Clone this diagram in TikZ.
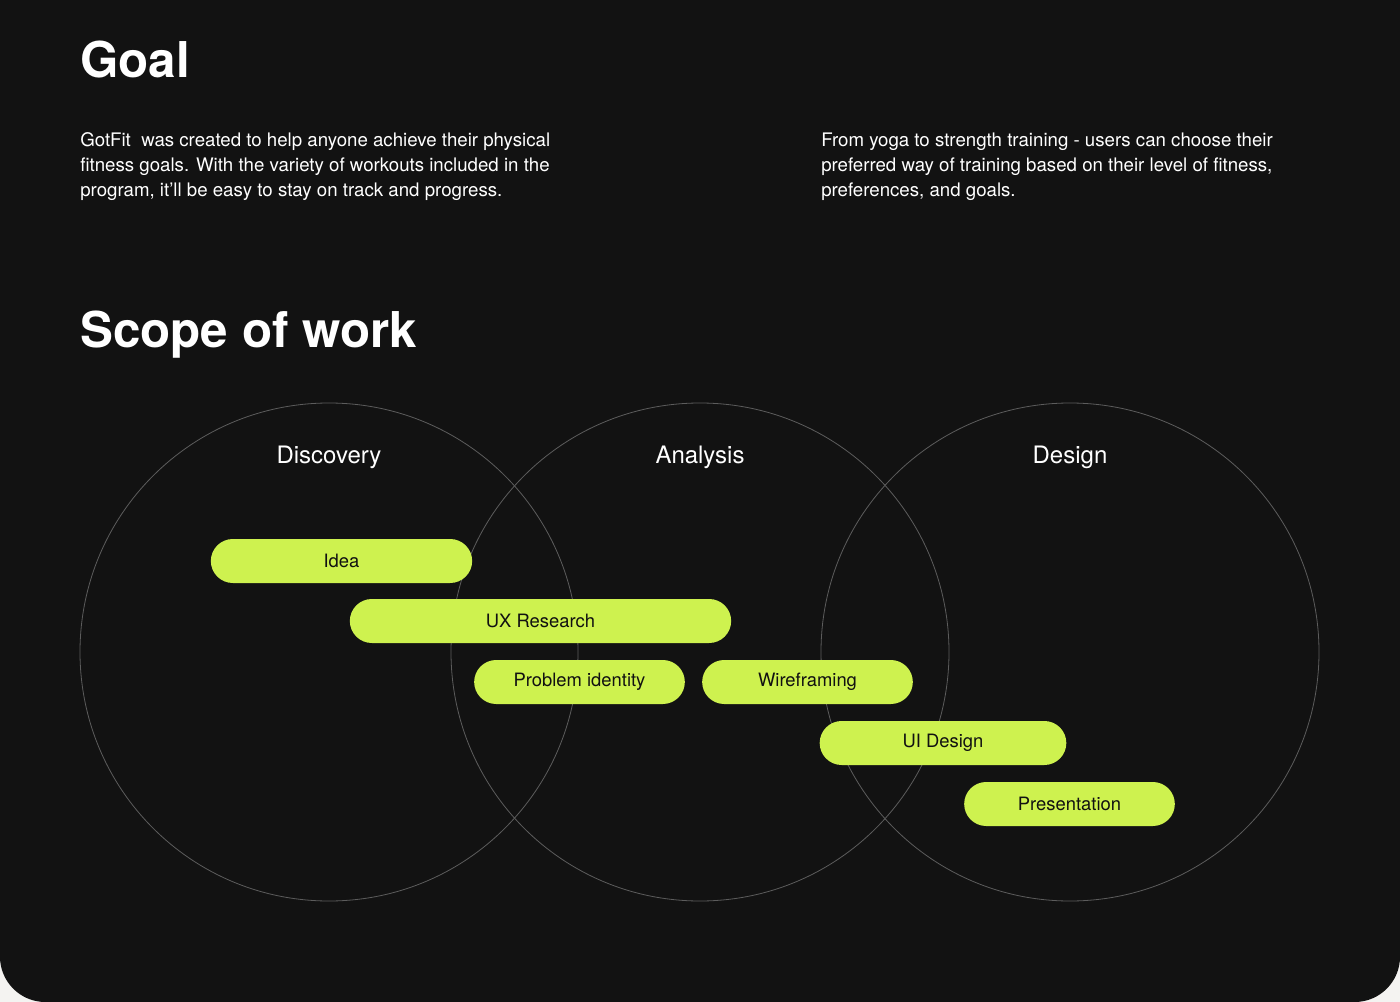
\documentclass[tikz,border=0pt]{standalone}
\usepackage{fontspec}
\setmainfont{TeX Gyre Heros}
\definecolor{pagebg}{HTML}{F4F3F1}
\definecolor{cardbg}{HTML}{121212}
\definecolor{ringgray}{HTML}{5C5C5C}
\definecolor{lime}{HTML}{CEF24F}
\definecolor{ink}{HTML}{111111}
\tikzset{
  pill/.style={fill=lime, rounded corners=16.5pt, minimum height=33pt, inner sep=0pt, text=ink, font=\fontsize{13.8}{15}\selectfont},
  ring/.style={draw=ringgray, line width=0.6pt},
  ringtitle/.style={text=white, font=\fontsize{18}{21}\selectfont, anchor=base},
  bodytext/.style={text=white, anchor=base west, align=left, inner sep=0pt, font=\fontsize{14}{18.75}\selectfont},
  headline/.style={text=white, anchor=base west, inner sep=0pt, font=\fontsize{37}{42}\bfseries\selectfont}
}
\begin{document}
\begin{tikzpicture}[x=0.75pt, y=-0.75pt]
  \def\W{1400} \def\H{1002} \def\R{249}
  % page and card
  \fill[pagebg] (0,0) rectangle (\W,\H);
  \useasboundingbox (0,0) rectangle (\W,\H);
  \fill[cardbg] (0,0) -- (\W,0) [rounded corners=34pt] -- (\W,\H) -- (0,\H) [sharp corners] -- cycle;
  % headings and text
  \node[headline] (goal) at (80,78) {Goal};
  \node[bodytext] (goaltxt) at (80,197) {GotFit\ \ was created to help anyone achieve their physical\\fitness goals. With the variety of workouts included in the\\program, it'll be easy to stay on track and progress.};
  \node[bodytext] (choosetxt) at (821,197) {From yoga to strength training - users can choose their\\preferred way of training based on their level of fitness,\\preferences, and goals.};
  \node[headline] (scope) at (80,347) {Scope of work};
  % circles
  \draw[ring] (329,652) circle (\R);
  \draw[ring] (700,652) circle (\R);
  \draw[ring] (1070,652) circle (\R);
  \node[ringtitle] (discovery) at (329,463) {Discovery};
  \node[ringtitle] (analysis) at (700,463) {Analysis};
  \node[ringtitle] (design) at (1070,463) {Design};
  % steps
  \node[pill, minimum width=196pt] (idea) at (341.5,561) {Idea};
  \node[pill, minimum width=286pt] (uxres) at (540.5,621) {UX Research};
  \node[pill, minimum width=158pt] (problem) at (579.5,682) {Problem identity};
  \node[pill, minimum width=158pt] (wire) at (807.5,682) {Wireframing};
  \node[pill, minimum width=185pt] (uidesign) at (943,743) {UI Design};
  \node[pill, minimum width=158pt] (present) at (1069.5,804) {Presentation};
\end{tikzpicture}
\end{document}
